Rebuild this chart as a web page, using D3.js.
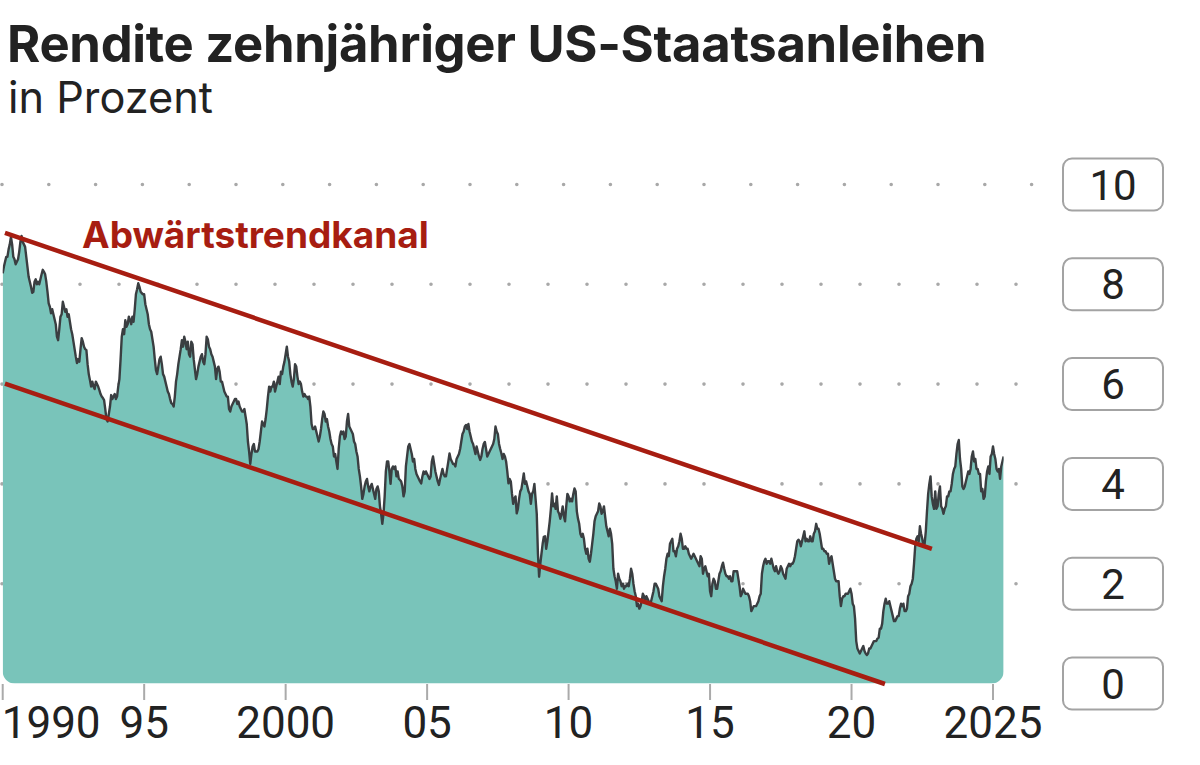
<!DOCTYPE html>
<html><head><meta charset="utf-8">
<script src="https://cdn.jsdelivr.net/npm/d3@7"></script>
<style>
html,body{margin:0;padding:0;background:#fff;}
svg{display:block;font-family:Roboto,"Noto Sans",sans-serif;}
</style></head><body>
<svg id="chart" width="1200" height="765"></svg>
<script>
// ---- data ----
const startYear = 1990;
const stepsPerYear = 24; // half-monthly readings
const yields = [
// 1990
8.22,8.35,8.45,8.55,8.55,8.70,8.80,8.95,8.80,8.55,8.50,8.40,8.45,8.50,8.65,8.85,8.97,8.85,8.80,8.75,8.55,8.35,8.15,8.05,
// 1991
7.95,7.83,7.85,8.05,8.10,8.00,8.05,8.00,8.10,8.20,8.29,8.25,8.20,8.05,7.85,7.62,7.55,7.42,7.50,7.40,7.30,7.20,6.95,6.88,
// 1992
7.10,7.35,7.40,7.65,7.55,7.45,7.50,7.35,7.40,7.25,7.10,7.00,6.85,6.70,6.55,6.42,6.50,6.45,6.70,6.92,6.85,6.75,6.70,6.68,
// 1993
6.40,6.20,6.08,5.95,6.05,5.95,5.90,6.05,6.00,5.95,5.88,5.80,5.75,5.72,5.68,5.50,5.30,5.25,5.40,5.55,5.78,5.70,5.75,5.80,
// 1994
5.70,5.75,5.95,6.10,6.50,6.95,7.10,7.00,7.28,7.15,7.20,7.35,7.28,7.20,7.35,7.25,7.50,7.80,7.90,8.02,7.95,7.85,7.82,7.80,
// 1995
7.80,7.60,7.50,7.40,7.20,7.10,7.05,6.90,6.75,6.50,6.28,6.20,6.35,6.50,6.55,6.40,6.20,6.15,6.05,5.95,5.85,5.80,5.70,5.62,
// 1996
5.60,5.55,5.75,6.05,6.20,6.40,6.55,6.70,6.88,6.75,6.95,6.85,6.70,6.85,6.60,6.55,6.85,6.80,6.50,6.30,6.10,6.20,6.35,6.45,
// 1997
6.55,6.60,6.45,6.40,6.60,6.95,6.90,6.75,6.70,6.60,6.55,6.45,6.35,6.10,6.30,6.35,6.25,6.05,6.05,5.95,5.85,5.80,5.75,5.75,
// 1998
5.50,5.45,5.55,5.60,5.65,5.70,5.70,5.60,5.65,5.55,5.50,5.45,5.45,5.50,5.35,5.20,4.85,4.65,4.40,4.60,4.75,4.80,4.65,4.65,
// 1999
4.65,4.70,4.85,5.05,5.25,5.20,5.15,5.30,5.50,5.75,5.95,5.85,5.95,5.95,6.05,5.85,5.95,6.05,6.15,6.00,6.25,6.20,6.35,6.45,
// 2000
6.60,6.75,6.55,6.45,6.20,6.05,5.95,6.10,6.40,6.35,6.15,6.00,6.05,6.00,5.85,5.75,5.80,5.75,5.75,5.70,5.75,5.55,5.20,5.10,
// 2001
5.10,5.15,5.05,4.95,4.85,4.95,5.10,5.30,5.45,5.40,5.25,5.30,5.15,5.05,4.90,4.80,4.75,4.55,4.60,4.45,4.30,4.70,4.95,5.05,
// 2002
5.00,5.05,4.90,4.95,5.25,5.40,5.15,5.10,5.05,5.00,4.85,4.80,4.65,4.55,4.30,4.15,3.95,3.70,3.80,3.95,4.05,4.10,3.95,3.85,
// 2003
3.95,4.00,3.90,3.80,3.70,3.90,3.95,3.85,3.55,3.40,3.20,3.40,3.75,4.25,4.45,4.45,4.25,4.00,4.30,4.35,4.30,4.35,4.15,4.25,
// 2004
4.10,4.08,4.05,3.95,3.75,3.85,4.35,4.55,4.75,4.80,4.70,4.60,4.45,4.50,4.30,4.20,4.15,4.10,4.05,4.01,4.15,4.25,4.20,4.25,
// 2005
4.20,4.15,4.10,4.15,4.45,4.55,4.40,4.25,4.15,4.05,3.98,4.10,4.20,4.30,4.20,4.15,4.15,4.30,4.45,4.61,4.50,4.45,4.40,4.40,
// 2006
4.35,4.50,4.55,4.60,4.70,4.85,5.00,5.05,5.15,5.18,5.10,5.20,5.05,4.95,4.85,4.80,4.70,4.60,4.75,4.65,4.55,4.48,4.55,4.70,
// 2007
4.80,4.84,4.70,4.55,4.60,4.65,4.70,4.75,4.80,4.90,5.15,5.05,5.00,4.80,4.70,4.61,4.50,4.60,4.55,4.45,4.25,4.01,4.10,4.05,
// 2008
3.80,3.60,3.70,3.75,3.41,3.50,3.70,3.85,3.90,4.05,4.21,4.00,4.05,3.95,3.85,3.80,3.60,3.80,3.85,4.00,3.70,3.40,2.60,2.14,
// 2009
2.40,2.60,2.80,2.94,2.95,2.70,2.85,3.05,3.25,3.50,3.81,3.55,3.60,3.50,3.75,3.45,3.40,3.30,3.40,3.55,3.35,3.25,3.55,3.80,
// 2010
3.75,3.65,3.70,3.65,3.80,3.91,3.85,3.45,3.30,3.20,3.00,2.94,3.00,2.90,2.70,2.60,2.70,2.50,2.44,2.60,2.80,3.00,3.25,3.35,
// 2011
3.40,3.45,3.61,3.55,3.40,3.45,3.55,3.35,3.15,3.05,2.95,3.10,3.00,2.80,2.30,2.15,2.05,1.90,2.20,2.10,2.05,1.95,2.00,1.90,
// 2012
1.95,1.95,2.00,1.95,2.10,2.30,2.20,2.00,1.85,1.75,1.55,1.60,1.50,1.55,1.65,1.80,1.75,1.65,1.75,1.70,1.65,1.60,1.65,1.75,
// 2013
1.85,2.00,2.00,1.95,1.90,1.75,1.70,1.65,1.95,2.15,2.30,2.50,2.60,2.55,2.80,2.85,2.90,2.65,2.65,2.55,2.70,2.75,2.85,3.00,
// 2014
2.90,2.70,2.70,2.75,2.70,2.70,2.60,2.55,2.50,2.55,2.60,2.55,2.50,2.45,2.40,2.35,2.55,2.50,2.20,2.30,2.35,2.25,2.15,2.20,
// 2015
1.85,1.75,2.00,2.10,2.05,1.90,1.90,2.05,2.20,2.25,2.35,2.42,2.30,2.20,2.15,2.15,2.10,2.15,2.05,2.05,2.25,2.25,2.25,2.25,
// 2016
2.10,1.95,1.75,1.80,1.90,1.85,1.80,1.80,1.80,1.75,1.65,1.45,1.50,1.55,1.55,1.55,1.60,1.65,1.75,1.80,2.20,2.35,2.45,2.50,
// 2017
2.40,2.45,2.45,2.40,2.50,2.40,2.30,2.25,2.35,2.25,2.20,2.25,2.35,2.30,2.20,2.15,2.10,2.30,2.35,2.40,2.35,2.40,2.40,2.45,
// 2018
2.55,2.70,2.85,2.88,2.85,2.75,2.85,2.95,3.05,2.85,2.90,2.85,2.85,2.95,2.85,2.85,3.00,3.05,3.20,3.10,3.10,3.00,2.85,2.70,
// 2019
2.70,2.65,2.65,2.60,2.60,2.40,2.50,2.55,2.40,2.25,2.10,2.05,2.05,2.05,1.75,1.55,1.70,1.75,1.75,1.80,1.80,1.80,1.85,1.90,
// 2020
1.80,1.60,1.55,1.30,0.85,0.70,0.65,0.60,0.65,0.70,0.75,0.65,0.60,0.57,0.60,0.70,0.70,0.75,0.80,0.85,0.85,0.85,0.90,0.92,
// 2021
1.10,1.10,1.20,1.45,1.60,1.70,1.60,1.60,1.65,1.55,1.45,1.35,1.25,1.25,1.30,1.35,1.35,1.50,1.60,1.55,1.60,1.45,1.45,1.50,
// 2022
1.75,1.80,1.95,2.00,2.10,2.40,2.75,2.90,2.95,2.85,3.15,3.00,2.90,2.75,2.80,3.05,3.45,3.80,4.00,4.15,3.75,3.60,3.50,3.85,
// 2023
3.50,3.55,3.80,3.95,3.55,3.50,3.40,3.50,3.55,3.75,3.75,3.85,3.85,4.00,4.20,4.30,4.35,4.60,4.80,4.88,4.50,4.30,3.95,3.90,
// 2024
3.95,4.05,4.15,4.25,4.20,4.30,4.55,4.65,4.45,4.50,4.30,4.30,4.20,4.20,3.85,3.90,3.70,3.75,4.05,4.25,4.35,4.20,4.55,4.60,
// 2025
4.75,4.60,4.50,4.30,4.25,4.30,4.10,4.35,4.45,4.55
];
const xTicks = [1990, 1995, 2000, 2005, 2010, 2015, 2020, 2025];
const xTickLabels = ["1990", "95", "2000", "05", "10", "15", "20", "2025"];
const yTicks = [0, 2, 4, 6, 8, 10];
const channelUpper = [[1990.08, 9.03], [2022.84, 2.70]];
const channelLower = [[1990.08, 6.01], [2021.18, -0.01]];
const channelLabel = "Abwärtstrendkanal";
const title = "Rendite zehnjähriger US-Staatsanleihen";
const subtitle = "in Prozent";

// ---- drawing ----
const series = yields.map((v, i) => ({t: startYear + i / stepsPerYear, v}));
const svg = d3.select("#chart");
const x = d3.scaleLinear().domain([1990, 2025]).range([2.7, 993]);
const y = d3.scaleLinear().domain([0, 10]).range([683.5, 184.5]);

// fit text to a measured target width
function fitText(sel, targetW) {
  const fs = +sel.attr("font-size");
  const w = sel.node().getComputedTextLength();
  if (w > 0) sel.attr("font-size", (fs * targetW / w).toFixed(2));
}

const tTitle = svg.append("text").attr("x", 7).attr("y", 62)
  .attr("font-family", "Inter, Roboto, sans-serif")
  .attr("font-size", 46).attr("font-weight", 700).attr("fill", "#222")
  .attr("letter-spacing", -0.3)
  .text(title);
fitText(tTitle, 978);
const tSub = svg.append("text").attr("x", 8).attr("y", 113)
  .attr("font-family", "Inter, Roboto, sans-serif")
  .attr("font-size", 38).attr("font-weight", 400).attr("fill", "#222")
  .text(subtitle);
fitText(tSub, 205);

// dotted grid
yTicks.filter(d => d > 0).forEach(d => {
  const sp = d === 10 ? 46.8 : 39;
  const x2 = d === 10 ? 1032 : 1055;
  svg.append("line")
    .attr("x1", 2).attr("x2", x2).attr("y1", y(d)).attr("y2", y(d))
    .attr("stroke", "#a8a8a8").attr("stroke-width", 3.6)
    .attr("stroke-linecap", "round")
    .attr("stroke-dasharray", `0 ${sp}`);
});

// clip with rounded bottom corners
const x0 = x(series[0].t), x1 = x(series[series.length - 1].t);
svg.append("defs").append("clipPath").attr("id", "clip")
  .append("rect").attr("x", x0).attr("y", 100)
  .attr("width", x1 - x0).attr("height", y(0) - 100).attr("rx", 12);

const area = d3.area().x(d => x(d.t)).y0(y(0)).y1(d => y(d.v));
const line = d3.line().x(d => x(d.t)).y(d => y(d.v));
const g = svg.append("g").attr("clip-path", "url(#clip)");
g.append("path").datum(series).attr("d", area).attr("fill", "#79c4ba");
g.append("path").datum(series).attr("d", line)
  .attr("fill", "none").attr("stroke", "#3a3e41").attr("stroke-width", 2.4)
  .attr("stroke-linejoin", "round");

// channel lines
[channelUpper, channelLower].forEach(c => {
  svg.append("line")
    .attr("x1", x(c[0][0])).attr("y1", y(c[0][1]))
    .attr("x2", x(c[1][0])).attr("y2", y(c[1][1]))
    .attr("stroke", "#a71d11").attr("stroke-width", 4.5);
});
const tLab = svg.append("text").attr("x", 82).attr("y", 248)
  .attr("font-family", "Inter, Roboto, sans-serif")
  .attr("font-size", 36).attr("font-weight", 700).attr("fill", "#a71d11")
  .text(channelLabel);
fitText(tLab, 347);

// x axis
const xa = svg.append("g");
xTicks.forEach((t, i) => {
  xa.append("line").attr("x1", x(t)).attr("x2", x(t))
    .attr("y1", y(0) + 0.5).attr("y2", 700)
    .attr("stroke", "#aaa").attr("stroke-width", 2);
  xa.append("text").attr("x", i === 0 ? x(t) - 1 : x(t)).attr("y", 737.5)
    .attr("text-anchor", i === 0 ? "start" : "middle")
    .attr("font-size", 44).attr("fill", "#222")
    .text(xTickLabels[i]);
});

// y labels in boxes
yTicks.forEach(d => {
  svg.append("rect").attr("x", 1063).attr("y", y(d) - 26)
    .attr("width", 100).attr("height", 52).attr("rx", 9)
    .attr("fill", "#fff").attr("stroke", "#a3a3a3").attr("stroke-width", 2);
  svg.append("text").attr("x", 1113).attr("y", y(d) + 15)
    .attr("text-anchor", "middle").attr("font-size", 42).attr("fill", "#222")
    .text(d);
});
</script>
</body></html>
